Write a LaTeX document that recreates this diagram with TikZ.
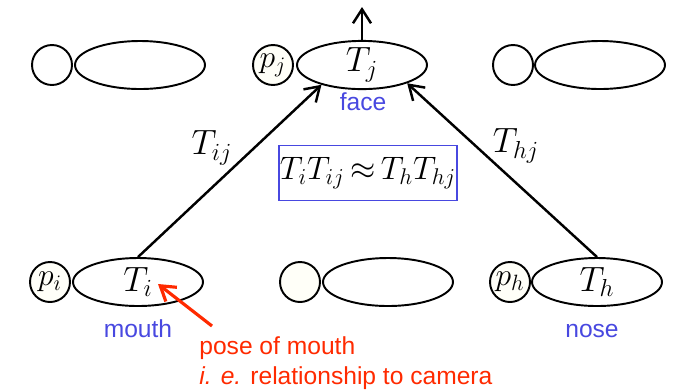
\RequirePackage{fix-cm}
\documentclass[tikz,border=0pt]{standalone}
\usepackage{fontspec}
\setsansfont{Liberation Sans}
\usepackage{xcolor}
\definecolor{poseBlue}{HTML}{4848E0}
\definecolor{poseRed}{HTML}{FF2A00}
\definecolor{poseIvory}{HTML}{FFFFF8}
\usepackage{tikz}
\usetikzlibrary{arrows.meta, shapes.geometric}
\tikzset{
  %% parts: the frame ellipse and its point circle
  partEllipse/.style = {ellipse, draw, line width=1.1pt, minimum width=2.6cm,
                        minimum height=0.96cm, inner sep=0pt,
                        font=\fontsize{20}{23}\selectfont},
  partCircle/.style  = {circle, draw, line width=1.1pt, fill=poseIvory,
                        minimum size=0.8cm, inner sep=0pt,
                        font=\fontsize{18}{21}\selectfont},
  %% arrows
  fleche/.style      = {-{Straight Barb[length=2.8mm, width=3.6mm]},
                        line width=1.4pt},
  flecheNote/.style  = {fleche, draw=poseRed, line width=1.8pt},
  %% text
  transfo/.style     = {font=\fontsize{20}{23}\selectfont, inner sep=0pt},
  etiquette/.style   = {font=\sffamily\fontsize{14}{17}\selectfont,
                        text=poseBlue, inner sep=0pt},
  note/.style        = {font=\sffamily\fontsize{14}{17}\selectfont,
                        text=poseRed, align=left, inner sep=0pt},
  cadre/.style       = {draw=poseBlue, line width=1.1pt, minimum width=3.56cm,
                        minimum height=1.1cm, inner sep=0pt,
                        font=\fontsize{18.5}{21}\selectfont},
}

\begin{document}
\begin{tikzpicture}[x=0.02cm, y=-0.02cm]
\useasboundingbox (0,0) rectangle (679,390);

%% top row
\node[partCircle, fill=white] (pa) at (52,65)  {};
\node[partEllipse] (ta) at (140,65) {};
\node[partCircle]  (pj) at (273,65) {$p_j$};
\node[partEllipse] (tj) at (362,65) {$T_j$};
\node[partCircle, fill=white] (pb) at (513,65) {};
\node[partEllipse] (tb) at (600,65) {};

%% bottom row
\node[partCircle]  (pi) at (50,282)  {$p_i$};
\node[partEllipse] (ti) at (138,282) {$T_i$};
\node[partCircle]  (pc) at (300,282) {};
\node[partEllipse] (tc) at (388,282) {};
\node[partCircle]  (ph) at (510,282) {$p_h$};
\node[partEllipse] (th) at (597,282) {$T_h$};

\node[etiquette, anchor=base] (face)  at (363,110) {face};
\node[etiquette, anchor=base] (mouth) at (138,337) {mouth};
\node[etiquette, anchor=base] (nose)  at (592,337) {nose};

%% transforms between the parts
\coordinate (haut) at (362,7);
\draw[fleche] (tj.north) -- (haut);
\draw[fleche] (ti.north) -- (tj.206);
\draw[fleche] (th.north) -- (tj.-22);
\node[transfo] (tij) at (212,148) {$T_{ij}$};
\node[transfo] (thj) at (516,146) {$T_{hj}$};

\node[cadre] (rel) at (368,173) {$T_iT_{ij}\,{\approx}\,T_hT_{hj}$};

%% note on the mouth pose
\node[note, anchor=north west] (pose) at (199,336)
     {pose of mouth\\\textit{i. e.} relationship to camera};
\coordinate (poseTip) at (158,284);
\draw[flecheNote] ([shift={(13,-10)}]pose.north west) -- (poseTip);

\end{tikzpicture}
\end{document}
